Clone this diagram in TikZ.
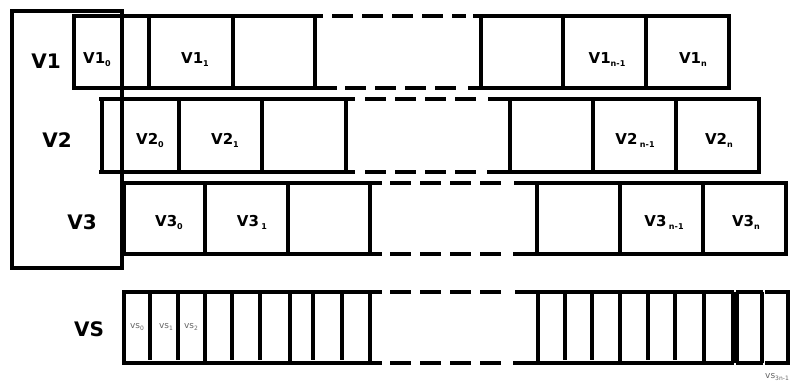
\documentclass[tikz,border=0pt]{standalone}
\usepackage{fontspec}
\setmainfont{DejaVu Sans}
\newcommand\mysub[1]{\raisebox{-3pt}{\fontsize{8}{8}\selectfont #1}}
\newcommand\mytinysub[1]{\raisebox{-2pt}{\fontsize{6}{6}\selectfont #1}}
\begin{document}
\begin{tikzpicture}[x=1pt,y=-1pt,
  wall/.style={line width=3.6pt, line cap=butt},
  gapline/.style={line width=3.6pt, dash pattern=on 21pt off 9pt},
  biglbl/.style={font=\fontsize{20}{20}\selectfont\bfseries, inner sep=0pt},
  cell/.style={font=\fontsize{15}{15}\selectfont\bfseries, inner sep=0pt},
  tinylbl/.style={font=\fontsize{9}{9}\selectfont, text=black!60, inner sep=0pt}]
\useasboundingbox (0,0) rectangle (793,381);
% outer frame
\draw[wall] (12,11) rectangle (122,268);
% ---- row V1
\draw[wall] (72,16) -- (323,16); \draw[gapline] (332,16) -- (466,16); \draw[wall] (473,16) -- (731,16);
\draw[wall] (72,88) -- (337,88); \draw[gapline] (345,88) -- (458,88); \draw[wall] (468,88) -- (731,88);
\foreach \x in {74,149,233,315,481,563,646,729} \draw[wall] (\x,16) -- (\x,88);
% ---- row V2
\draw[wall] (99,99) -- (355,99); \draw[gapline] (365,99) -- (479,99); \draw[wall] (488,99) -- (761,99);
\draw[wall] (99,172) -- (355,172); \draw[gapline] (365,172) -- (478,172); \draw[wall] (487,172) -- (761,172);
\foreach \x in {102,179,262,346,510,593,676,759} \draw[wall] (\x,99) -- (\x,172);
% ---- row V3
\draw[wall] (122,183) -- (382,183); \draw[gapline] (390,183) -- (503,183); \draw[wall] (514,183) -- (788,183);
\draw[wall] (122,254) -- (382,254); \draw[gapline] (390,254) -- (503,254); \draw[wall] (513,254) -- (788,254);
\foreach \x in {124,205,288,370,537,620,703,786} \draw[wall] (\x,183) -- (\x,254);
% ---- row VS
\draw[wall] (122,292) -- (382,292); \draw[gapline] (390,292) -- (503,292);
\draw[wall] (515,292) -- (734,292); \draw[wall] (736,292) -- (763,292); \draw[wall] (765,292) -- (790,292);
\draw[wall] (122,363) -- (382,363); \draw[gapline] (390,363) -- (503,363);
\draw[wall] (513,363) -- (734,363); \draw[wall] (736,363) -- (763,363); \draw[wall] (765,363) -- (790,363);
\foreach \x in {124,205,290,370,538,620,704,733,737,762,788} \draw[wall] (\x,292) -- (\x,363);
\foreach \x in {150,178,232,260,313,342,565,592,648,675} \draw[wall] (\x,292) -- (\x,360);
% ---- labels
\node[biglbl] (lv1) at (46,61) {V1};
\node[biglbl] (lv2) at (57,140) {V2};
\node[biglbl] (lv3) at (82,222) {V3};
\node[biglbl] (lvs) at (89,329) {VS};
\node[cell] (a0) at (97,60) {V1\mysub{0}};
\node[cell] (a1) at (195,60) {V1\mysub{1}};
\node[cell] (an1) at (607,60) {V1\mysub{n-1}};
\node[cell] (an) at (693,60) {V1\mysub{n}};
\node[cell] (b0) at (150,140) {V2\mysub{0}};
\node[cell] (b1) at (225,140) {V2\mysub{1}};
\node[cell] (bn1) at (635,140) {V2\,\mysub{n-1}};
\node[cell] (bn) at (719,140) {V2\mysub{n}};
\node[cell] (c0) at (169,222) {V3\mysub{0}};
\node[cell] (c1) at (252,222) {V3\,\mysub{1}};
\node[cell] (cn1) at (664,222) {V3\,\mysub{n-1}};
\node[cell] (cn) at (746,222) {V3\mysub{n}};
\node[tinylbl] (s0) at (137,327) {vs\mytinysub{0}};
\node[tinylbl] (s1) at (166,327) {vs\mytinysub{1}};
\node[tinylbl] (s2) at (191,327) {vs\mytinysub{2}};
\node[tinylbl,anchor=west] (sl) at (765,377) {vs\mytinysub{3n-1}};
\end{tikzpicture}
\end{document}
